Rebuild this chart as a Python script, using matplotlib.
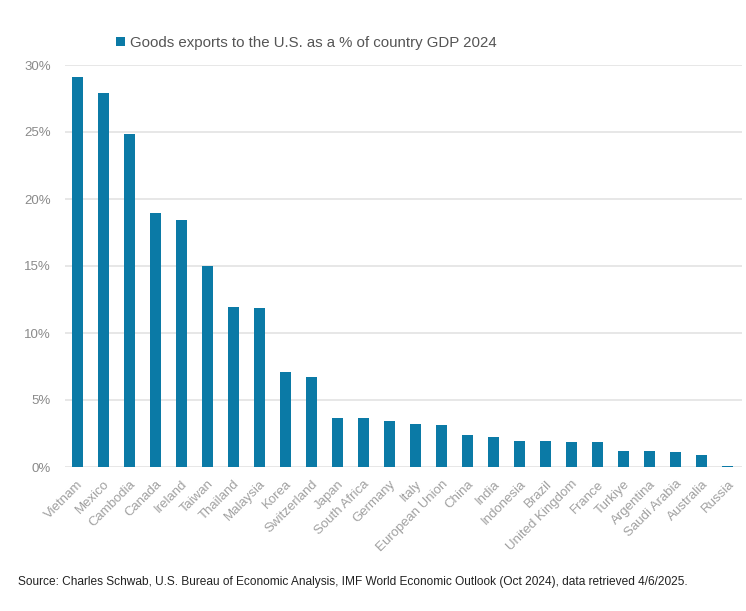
import matplotlib
matplotlib.use("Agg")
import matplotlib.pyplot as plt
from matplotlib.ticker import FuncFormatter
from matplotlib import font_manager

plt.rcParams['font.family'] = ['Liberation Sans', 'DejaVu Sans']

countries = ["Vietnam", "Mexico", "Cambodia", "Canada", "Ireland", "Taiwan", "Thailand",
             "Malaysia", "Korea", "Switzerland", "Japan", "South Africa", "Germany", "Italy",
             "European Union", "China", "India", "Indonesia", "Brazil", "United Kingdom",
             "France", "Turkiye", "Argentina", "Saudi Arabia", "Australia", "Russia"]
values = [29.1, 27.9, 24.85, 18.95, 18.45, 15.0, 11.95, 11.9, 7.1, 6.7, 3.66, 3.62, 3.4,
          3.18, 3.12, 2.4, 2.22, 1.96, 1.92, 1.88, 1.85, 1.22, 1.17, 1.13, 0.92, 0.1]
legend_label = "Goods exports to the U.S. as a % of country GDP 2024"
source = "Source: Charles Schwab, U.S. Bureau of Economic Analysis, IMF World Economic Outlook (Oct 2024), data retrieved 4/6/2025."

names = {f.name for f in font_manager.fontManager.ttflist}
if 'Liberation Sans Narrow' in names:
    src_family, src_size = ['Liberation Sans Narrow', 'DejaVu Sans'], 10
else:
    src_family, src_size = ['Liberation Sans', 'DejaVu Sans'], 8.6

fig = plt.figure(figsize=(7.46, 6.11), dpi=100)
ax = fig.add_axes([65/746, 1-467/611, (742-65)/746, (467-65)/611])

ax.bar(range(len(countries)), values, width=0.42, color="#0b7aa6", label=legend_label, zorder=3)
ax.set_ylim(0, 30)
ax.set_xlim(-0.47, 25.55)
ax.set_yticks([0, 5, 10, 15, 20, 25, 30])
ax.yaxis.set_major_formatter(FuncFormatter(lambda v, p: f"{v:.0f}%"))
ax.grid(axis='y', color="#e3e3e3", linewidth=1.2, zorder=0)
for s in ax.spines.values():
    s.set_visible(False)
ax.tick_params(axis='both', length=0, colors="#8a8a8a", labelsize=9.5)
ax.tick_params(axis='y', pad=10)
ax.set_xticks(range(len(countries)))
ax.set_xticklabels(countries, rotation=45, ha='right', rotation_mode='anchor', color="#a0a0a0", fontsize=9.5)
ax.tick_params(axis='x', pad=8)

leg = ax.legend(loc='lower left', bbox_to_anchor=(116/746, 1-50/611), bbox_transform=fig.transFigure,
                frameon=False, fontsize=10.8, handlelength=0.6, handleheight=0.6, handletextpad=0.35,
                borderpad=0, borderaxespad=0)
for t in leg.get_texts():
    t.set_color("#555555")

fig.text(18/746, 1-582/611, source, fontsize=src_size, family=src_family, color="#222222",
         va='center', ha='left')

fig.savefig("out.png", dpi=100, facecolor="white")
